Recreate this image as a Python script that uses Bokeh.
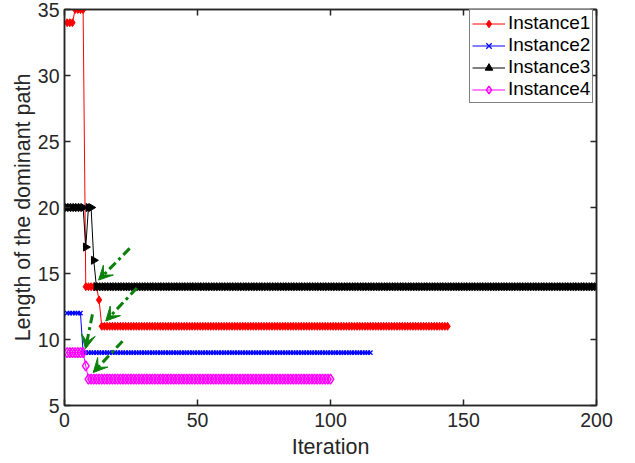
import numpy as np
from bokeh.plotting import figure
from bokeh.models import (LinearAxis, FixedTicker, Arrow, VeeHead, Legend,
                          LegendItem, Range1d)
from bokeh.embed import file_html
from bokeh.resources import INLINE

# ---- data (run-length encoded step series) ----
red_values = [34, 35, 14, 13, 11]
red_counts = [3, 4, 5, 1, 131]
blue_values = [12, 9]
blue_counts = [6, 109]
black_values = [20, 17, 20, 16, 14]
black_counts = [7, 1, 2, 1, 189]
magenta_values = [9, 8, 7]
magenta_counts = [7, 1, 92]

series_names = ["Instance1", "Instance2", "Instance3", "Instance4"]
x_ticks = [0, 50, 100, 150, 200]
y_ticks = [5, 10, 15, 20, 25, 30, 35]

# annotation arrows (data coords)
arrow_x_start = [24.5, 27.2, 10.5, 21.8]
arrow_y_start = [16.9, 13.9, 11.9, 9.87]
arrow_x_end = [12.8, 15.5, 7.9, 10.8]
arrow_y_end = [14.5, 11.4, 9.3, 7.5]


def expand(values, counts):
    y = np.repeat(values, counts)
    x = np.arange(1, len(y) + 1)
    return x, y


AX = "#262626"
FONT = "Liberation Sans"

p = figure(width=619, height=461, x_range=Range1d(0, 200), y_range=Range1d(5, 35),
           output_backend="svg", toolbar_location=None,
           min_border_left=64, min_border_right=23, min_border_top=9,
           min_border_bottom=51)
p.grid.visible = False
p.outline_line_color = AX
p.outline_line_width = 1.5

for ax in [p.xaxis[0], p.yaxis[0]]:
    ax.axis_line_color = AX
    ax.axis_line_width = 1.5
    ax.major_tick_line_color = AX
    ax.major_tick_line_width = 1.5
    ax.major_tick_in = 6
    ax.major_tick_out = 0
    ax.minor_tick_line_color = None
    ax.major_label_text_font = FONT
    ax.major_label_text_font_size = "19.5px"
    ax.major_label_text_color = AX
    ax.axis_label_text_font = FONT
    ax.axis_label_text_font_size = "21.5px"
    ax.axis_label_text_font_style = "normal"
    ax.axis_label_text_color = AX
p.xaxis.ticker = FixedTicker(ticks=x_ticks)
p.yaxis.ticker = FixedTicker(ticks=y_ticks)
p.xaxis.axis_label = "Iteration"
p.yaxis.axis_label = "Length of the dominant path"
p.xaxis.major_label_standoff = 7
p.xaxis.axis_label_standoff = 5
p.yaxis.major_label_standoff = 5
p.yaxis.axis_label_standoff = 0

for place, ticks in [("above", x_ticks), ("right", y_ticks)]:
    a = LinearAxis(ticker=FixedTicker(ticks=ticks), major_label_text_font_size="0px",
                   major_label_standoff=0, major_tick_in=6, major_tick_out=0,
                   minor_tick_line_color=None, axis_line_color=AX, axis_line_width=1.5,
                   major_tick_line_color=AX, major_tick_line_width=1.5)
    p.add_layout(a, place)

items = []
# Instance1
x, y = expand(red_values, red_counts)
l1 = p.line(x, y, color="#ff0000", line_width=1)
s1 = p.scatter(x, y, marker="diamond", size=8, fill_color="#ff0000", line_color="#ff0000")
items.append(LegendItem(label=series_names[0], renderers=[l1, s1]))
# Instance2
x, y = expand(blue_values, blue_counts)
l2 = p.line(x, y, color="#0000ff", line_width=1)
s2 = p.scatter(x, y, marker="x", size=6, line_color="#0000ff", line_width=1.3)
items.append(LegendItem(label=series_names[1], renderers=[l2, s2]))
# Instance3
x, y = expand(black_values, black_counts)
l3 = p.line(x, y, color="#000000", line_width=1)
s3 = p.scatter(x, y, marker="triangle", angle=-90, angle_units="deg", size=8,
               fill_color="#000000", line_color="#000000")
items.append(LegendItem(label=series_names[2], renderers=[l3, s3]))
# Instance4
x, y = expand(magenta_values, magenta_counts)
l4 = p.line(x, y, color="#ff00ff", line_width=1)
s4 = p.scatter(x, y, marker="diamond", size=10, fill_color=None, line_color="#ff00ff",
               line_width=1.5)
items.append(LegendItem(label=series_names[3], renderers=[l4, s4]))

GREEN = "#0a800a"
for xs, ys, xe, ye in zip(arrow_x_start, arrow_y_start, arrow_x_end, arrow_y_end):
    p.add_layout(Arrow(x_start=xs, y_start=ys, x_end=xe, y_end=ye,
                       line_color=GREEN, line_width=3, line_dash="9 4 3 4",
                       end=VeeHead(size=14, fill_color=GREEN, line_color=GREEN,
                                   line_width=1)))

legend = Legend(items=items, location=(405, 302), padding=2, spacing=0,
                glyph_width=33, glyph_height=19, label_height=19, label_standoff=3,
                label_text_font=FONT, label_text_font_size="19px",
                label_text_color="#000000", border_line_color="#000000",
                border_line_width=1.2, background_fill_alpha=1)
p.add_layout(legend)

open("out.html", "w").write(file_html(p, INLINE))
